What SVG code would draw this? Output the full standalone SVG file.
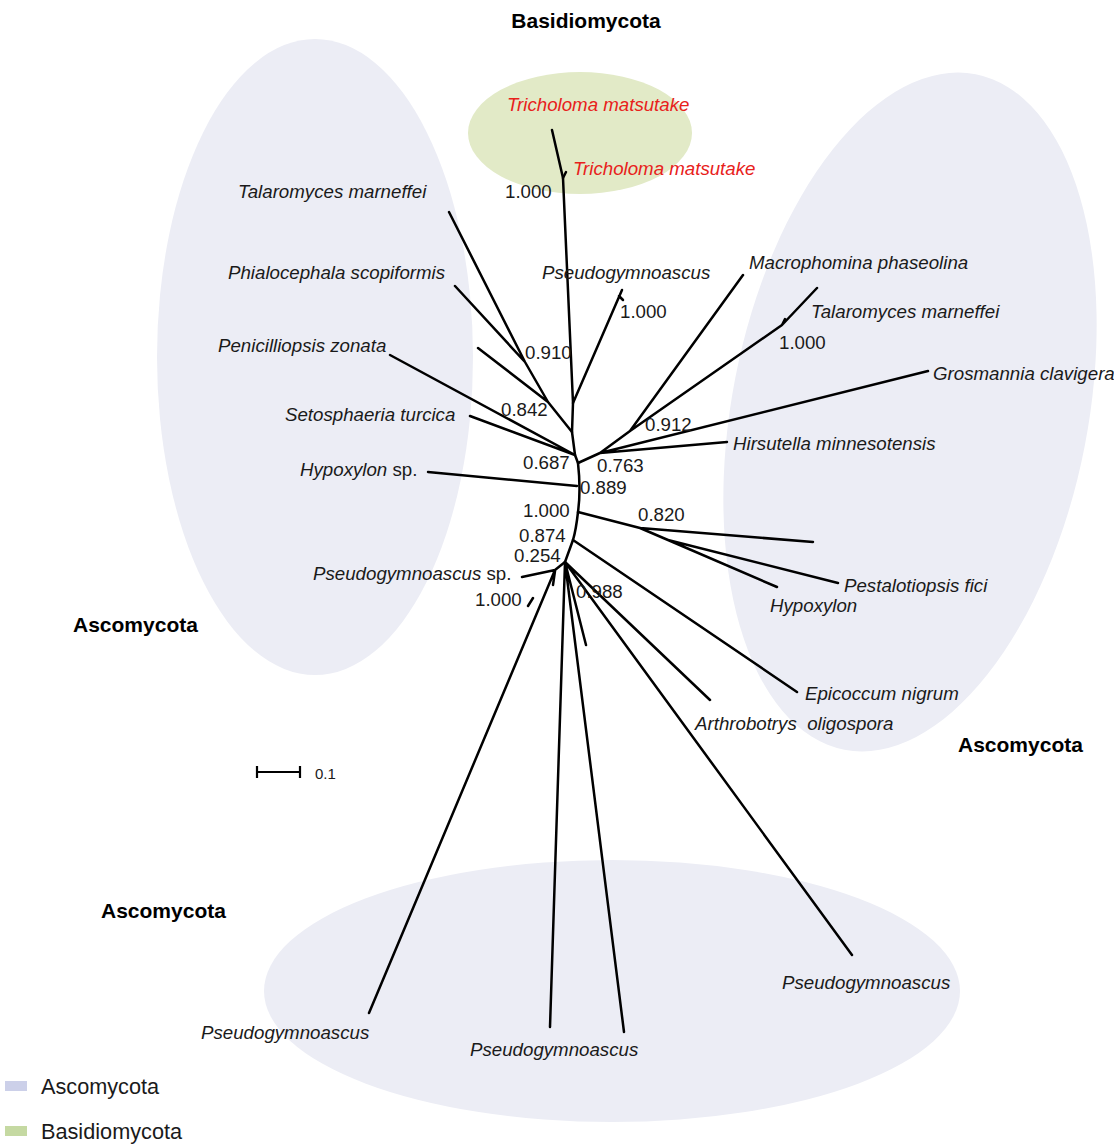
<svg xmlns="http://www.w3.org/2000/svg" width="1114" height="1147" viewBox="0 0 1114 1147">
<style>
.bg{fill:#ecedf5;stroke:none}
.gr{fill:#e2eac7;stroke:none}
.br{fill:none;stroke:#000;stroke-width:2.5;stroke-linecap:round;stroke-linejoin:round}
.lb{font-family:"Liberation Sans",Arial,sans-serif;font-size:18.7px;font-style:italic;fill:#1a1a1a}
.red{fill:#e8211b}
.num{font-family:"Liberation Sans",Arial,sans-serif;font-size:18.7px;fill:#1a1a1a}
.hd{font-family:"Liberation Sans",Arial,sans-serif;font-size:21px;font-weight:bold;fill:#000}
.lg{font-family:"Liberation Sans",Arial,sans-serif;font-size:21.7px;fill:#1a1a1a}
</style>
<rect width="1114" height="1147" fill="#fff"/>
<g id="regions">
<ellipse class="bg" cx="315" cy="357" rx="158" ry="318"/>
<ellipse class="bg" cx="910" cy="412" rx="178" ry="344" transform="rotate(11 910 412)"/>
<ellipse class="bg" cx="612" cy="991" rx="348" ry="131"/>
<ellipse class="gr" cx="580" cy="133" rx="112" ry="61"/>
</g>
<g id="connectors">
<path class="br" d="M552,130 L563,178 L573,403 L572,432 L575,455 L578,463 Q581,490 578,512 Q576,530 573,540 L565,562"/>
<path class="br" d="M563,178 L566,172"/>
<path class="br" d="M622,290 L573,403 M619,296 L623,300"/>
<path class="br" d="M449,212 L525,362 L548,402 L572,432 M455,286 L525,362 M478,348 L548,402"/>
<path class="br" d="M390,355 L575,455 M470,416 L575,455"/>
<path class="br" d="M578,463 L600,453 L727,442 M600,453 L928,371 M600,453 L630,431 L743,275 M630,431 L782,325 L817,288 M782,325 L785,319"/>
<path class="br" d="M428,472 L577,486"/>
<path class="br" d="M578,512 L640,528 L813,542 M640,528 L668,540 L838,583 M668,540 L777,587"/>
<path class="br" d="M573,540 L797,692"/>
<path class="br" d="M565,562 L555,570 L522,577 M555,570 L369,1013 M555,571 L553,585 M528,606 L533,598"/>
<path class="br" d="M565,562 L550,1027 M565,562 L624,1032 M565,562 L586,645 M565,562 L710,700 M565,562 L852,955"/>
</g>
<g id="n-tm1"><text class="lb red" x="507" y="111">Tricholoma matsutake</text></g>
<g id="n-tm2"><text class="lb red" x="573" y="175">Tricholoma matsutake</text></g>
<g id="n-talaro-l"><text class="lb" x="238" y="198">Talaromyces marneffei</text></g>
<g id="n-phialo"><text class="lb" x="228" y="279">Phialocephala scopiformis</text></g>
<g id="n-pseudo-top"><text class="lb" x="542" y="279">Pseudogymnoascus</text></g>
<g id="n-macro"><text class="lb" x="749" y="269">Macrophomina phaseolina</text></g>
<g id="n-talaro-r"><text class="lb" x="811" y="318">Talaromyces marneffei</text></g>
<g id="n-penic"><text class="lb" x="218" y="352">Penicilliopsis zonata</text></g>
<g id="n-grosm"><text class="lb" x="933" y="380">Grosmannia clavigera</text></g>
<g id="n-setos"><text class="lb" x="285" y="421">Setosphaeria turcica</text></g>
<g id="n-hirsut"><text class="lb" x="733" y="450">Hirsutella minnesotensis</text></g>
<g id="n-hypox-sp"><text class="lb" x="300" y="476">Hypoxylon<tspan font-style="normal"> sp.</tspan></text></g>
<g id="n-pseudo-sp"><text class="lb" x="313" y="580">Pseudogymnoascus<tspan font-style="normal"> sp.</tspan></text></g>
<g id="n-pestalo"><text class="lb" x="844" y="592">Pestalotiopsis fici</text></g>
<g id="n-hypox"><text class="lb" x="770" y="612">Hypoxylon</text></g>
<g id="n-epicoc"><text class="lb" x="805" y="700">Epicoccum nigrum</text></g>
<g id="n-arthro"><text class="lb" x="695" y="730" style="white-space:pre">Arthrobotrys  oligospora</text></g>
<g id="n-pseudo-br"><text class="lb" x="782" y="989">Pseudogymnoascus</text></g>
<g id="n-pseudo-bl"><text class="lb" x="201" y="1039">Pseudogymnoascus</text></g>
<g id="n-pseudo-bm"><text class="lb" x="470" y="1056">Pseudogymnoascus</text></g>
<g id="support">
<text class="num" x="505" y="198">1.000</text>
<text class="num" x="620" y="318">1.000</text>
<text class="num" x="779" y="349">1.000</text>
<text class="num" x="525" y="359">0.910</text>
<text class="num" x="501" y="416">0.842</text>
<text class="num" x="645" y="431">0.912</text>
<text class="num" x="523" y="469">0.687</text>
<text class="num" x="597" y="472">0.763</text>
<text class="num" x="580" y="494">0.889</text>
<text class="num" x="523" y="517">1.000</text>
<text class="num" x="638" y="521">0.820</text>
<text class="num" x="519" y="542">0.874</text>
<text class="num" x="514" y="562">0.254</text>
<text class="num" x="576" y="598">0.988</text>
<text class="num" x="475" y="606">1.000</text>
</g>
<g id="headings">
<text class="hd" x="586" y="28" text-anchor="middle">Basidiomycota</text>
<text class="hd" x="73" y="632">Ascomycota</text>
<text class="hd" x="958" y="752">Ascomycota</text>
<text class="hd" x="101" y="918">Ascomycota</text>
</g>
<g id="scale">
<path d="M257,772 H300 M257,766 V778 M300,766 V778" fill="none" stroke="#000" stroke-width="2.2"/>
<text x="315" y="779" font-family="Liberation Sans, Arial, sans-serif" font-size="15" fill="#1a1a1a">0.1</text>
</g>
<g id="legend">
<rect x="5" y="1081" width="22" height="10" fill="#ccd0e9"/>
<text class="lg" x="41" y="1094">Ascomycota</text>
<rect x="5" y="1126" width="22" height="10" fill="#c5d9a2"/>
<text class="lg" x="41" y="1139">Basidiomycota</text>
</g>
</svg>
